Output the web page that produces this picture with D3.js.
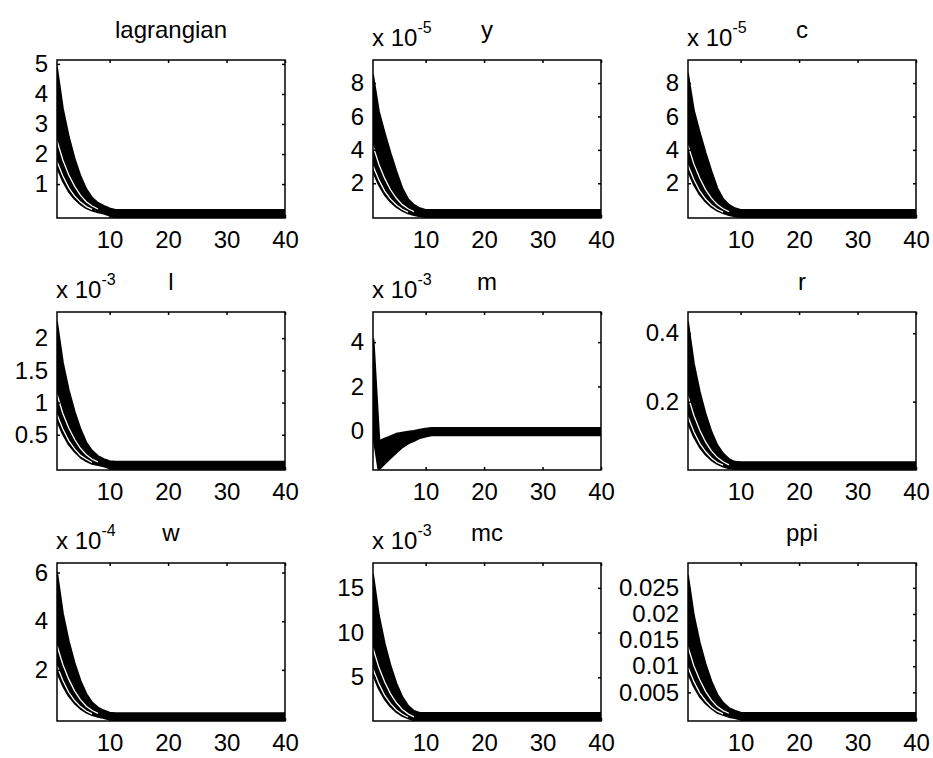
<!DOCTYPE html>
<html><head><meta charset="utf-8">
<script src="https://cdn.jsdelivr.net/npm/d3@7"></script>
<style>
html,body{margin:0;padding:0;background:#fff;}
svg{display:block;font-family:"Liberation Sans",Arial,Helvetica,sans-serif;}
</style></head><body>
<svg id="chart" width="933" height="758"></svg>
<script>
// ---------------- data ----------------
const periods = [1,2,3,4,5,6,7,8,9,10,11,12,13,14,15,16,17,18,19,20,
  21,22,23,24,25,26,27,28,29,30,31,32,33,34,35,36,37,38,39,40];
const titles = ["lagrangian","y","c","l","m","r","w","mc","ppi"];
const exponents = [null,"-5","-5","-3","-3",null,"-4","-3",null];
const xTicks = [10,20,30,40];
const yLimits = [[-0.13,5.13],[-0.08,9.38],[-0.08,9.38],[-0.047,2.406],[-1.77,5.36],
  [0,0.462],[-0.1,6.39],[0.11,17.78],[-0.00048,0.02975]];
const yTicks = [[1,2,3,4,5],[2,4,6,8],[2,4,6,8],[0.5,1,1.5,2],[0,2,4],[0.2,0.4],[2,4,6],[5,10,15],
  [0.005,0.01,0.015,0.02,0.025]];
const yTickLabels = [["1","2","3","4","5"],["2","4","6","8"],["2","4","6","8"],["0.5","1","1.5","2"],
  ["0","2","4"],["0.2","0.4"],["2","4","6"],["5","10","15"],["0.005","0.01","0.015","0.02","0.025"]];

// upper / lower edges of the bundle of response draws (in displayed units)
const lagrangianHigh = [4.87,3.51,2.58,1.85,1.27,0.83,0.54,0.37,0.27,0.19,
  0.14,0.14,0.14,0.14,0.14,0.14,0.14,0.14,0.14,0.14,
  0.14,0.14,0.14,0.14,0.14,0.14,0.14,0.14,0.14,0.14,
  0.14,0.14,0.14,0.14,0.14,0.14,0.14,0.14,0.14,0.14];
const lagrangianLow = [1.56,1.10,0.75,0.51,0.33,0.20,0.12,0.06,0.02,-0.05,
  -0.12,-0.12,-0.12,-0.12,-0.12,-0.12,-0.12,-0.12,-0.12,-0.12,
  -0.12,-0.12,-0.12,-0.12,-0.12,-0.12,-0.12,-0.12,-0.12,-0.12,
  -0.12,-0.12,-0.12,-0.12,-0.12,-0.12,-0.12,-0.12,-0.12,-0.12];
const yHigh = [8.48,6.30,5.00,3.80,2.70,1.70,1.05,0.70,0.50,0.40,
  0.40,0.40,0.40,0.40,0.40,0.40,0.40,0.40,0.40,0.40,
  0.40,0.40,0.40,0.40,0.40,0.40,0.40,0.40,0.40,0.40,
  0.40,0.40,0.40,0.40,0.40,0.40,0.40,0.40,0.40,0.40];
const yLow = [2.71,1.91,1.31,0.89,0.58,0.36,0.20,0.10,0.03,-0.03,
  -0.06,-0.06,-0.06,-0.06,-0.06,-0.06,-0.06,-0.06,-0.06,-0.06,
  -0.06,-0.06,-0.06,-0.06,-0.06,-0.06,-0.06,-0.06,-0.06,-0.06,
  -0.06,-0.06,-0.06,-0.06,-0.06,-0.06,-0.06,-0.06,-0.06,-0.06];
const cHigh = [8.55,6.35,5.04,3.83,2.72,1.71,1.06,0.70,0.50,0.40,
  0.40,0.40,0.40,0.40,0.40,0.40,0.40,0.40,0.40,0.40,
  0.40,0.40,0.40,0.40,0.40,0.40,0.40,0.40,0.40,0.40,
  0.40,0.40,0.40,0.40,0.40,0.40,0.40,0.40,0.40,0.40];
const cLow = [2.74,1.92,1.33,0.90,0.58,0.36,0.21,0.10,0.03,-0.03,
  -0.06,-0.06,-0.06,-0.06,-0.06,-0.06,-0.06,-0.06,-0.06,-0.06,
  -0.06,-0.06,-0.06,-0.06,-0.06,-0.06,-0.06,-0.06,-0.06,-0.06,
  -0.06,-0.06,-0.06,-0.06,-0.06,-0.06,-0.06,-0.06,-0.06,-0.06];
const lHigh = [2.25,1.62,1.19,0.86,0.59,0.38,0.25,0.17,0.12,0.09,
  0.08,0.08,0.08,0.08,0.08,0.08,0.08,0.08,0.08,0.08,
  0.08,0.08,0.08,0.08,0.08,0.08,0.08,0.08,0.08,0.08,
  0.08,0.08,0.08,0.08,0.08,0.08,0.08,0.08,0.08,0.08];
const lLow = [0.72,0.51,0.35,0.24,0.15,0.09,0.05,0.03,0.01,-0.02,
  -0.04,-0.04,-0.04,-0.04,-0.04,-0.04,-0.04,-0.04,-0.04,-0.04,
  -0.04,-0.04,-0.04,-0.04,-0.04,-0.04,-0.04,-0.04,-0.04,-0.04,
  -0.04,-0.04,-0.04,-0.04,-0.04,-0.04,-0.04,-0.04,-0.04,-0.04];
const mHigh = [4.10,-0.50,-0.38,-0.27,-0.16,-0.11,-0.07,-0.03,0.02,0.07,
  0.10,0.10,0.10,0.10,0.10,0.10,0.10,0.10,0.10,0.10,
  0.10,0.10,0.10,0.10,0.10,0.10,0.10,0.10,0.10,0.10,
  0.10,0.10,0.10,0.10,0.10,0.10,0.10,0.10,0.10,0.10];
const mLow = [0.00,-1.72,-1.45,-1.20,-0.95,-0.72,-0.55,-0.43,-0.30,-0.24,
  -0.18,-0.18,-0.18,-0.18,-0.18,-0.18,-0.18,-0.18,-0.18,-0.18,
  -0.18,-0.18,-0.18,-0.18,-0.18,-0.18,-0.18,-0.18,-0.18,-0.18,
  -0.18,-0.18,-0.18,-0.18,-0.18,-0.18,-0.18,-0.18,-0.18,-0.18];
const rHigh = [0.432,0.311,0.229,0.164,0.112,0.073,0.048,0.032,0.024,0.023,
  0.023,0.023,0.023,0.023,0.023,0.023,0.023,0.023,0.023,0.023,
  0.023,0.023,0.023,0.023,0.023,0.023,0.023,0.023,0.023,0.023,
  0.023,0.023,0.023,0.023,0.023,0.023,0.023,0.023,0.023,0.023];
const rLow = [0.138,0.097,0.067,0.045,0.029,0.018,0.010,0.005,0.003,0.002,
  0.002,0.002,0.002,0.002,0.002,0.002,0.002,0.002,0.002,0.002,
  0.002,0.002,0.002,0.002,0.002,0.002,0.002,0.002,0.002,0.002,
  0.002,0.002,0.002,0.002,0.002,0.002,0.002,0.002,0.002,0.002];
const wHigh = [6.00,4.32,3.18,2.28,1.56,1.02,0.66,0.45,0.33,0.24,
  0.22,0.22,0.22,0.22,0.22,0.22,0.22,0.22,0.22,0.22,
  0.22,0.22,0.22,0.22,0.22,0.22,0.22,0.22,0.22,0.22,
  0.22,0.22,0.22,0.22,0.22,0.22,0.22,0.22,0.22,0.22];
const wLow = [1.92,1.35,0.93,0.63,0.41,0.25,0.14,0.07,0.02,-0.04,
  -0.08,-0.08,-0.08,-0.08,-0.08,-0.08,-0.08,-0.08,-0.08,-0.08,
  -0.08,-0.08,-0.08,-0.08,-0.08,-0.08,-0.08,-0.08,-0.08,-0.08,
  -0.08,-0.08,-0.08,-0.08,-0.08,-0.08,-0.08,-0.08,-0.08,-0.08];
const mcHigh = [16.5,11.9,8.75,6.27,4.29,2.81,1.82,1.24,1.00,1.00,
  1.00,1.00,1.00,1.00,1.00,1.00,1.00,1.00,1.00,1.00,
  1.00,1.00,1.00,1.00,1.00,1.00,1.00,1.00,1.00,1.00,
  1.00,1.00,1.00,1.00,1.00,1.00,1.00,1.00,1.00,1.00];
const mcLow = [5.28,3.71,2.56,1.73,1.12,0.69,0.40,0.20,0.15,0.15,
  0.15,0.15,0.15,0.15,0.15,0.15,0.15,0.15,0.15,0.15,
  0.15,0.15,0.15,0.15,0.15,0.15,0.15,0.15,0.15,0.15,
  0.15,0.15,0.15,0.15,0.15,0.15,0.15,0.15,0.15,0.15];
const ppiHigh = [0.0273,0.0197,0.0145,0.0104,0.0071,0.0046,0.0030,0.0020,0.0015,0.0011,
  0.00105,0.00105,0.00105,0.00105,0.00105,0.00105,0.00105,0.00105,0.00105,0.00105,
  0.00105,0.00105,0.00105,0.00105,0.00105,0.00105,0.00105,0.00105,0.00105,0.00105,
  0.00105,0.00105,0.00105,0.00105,0.00105,0.00105,0.00105,0.00105,0.00105,0.00105];
const ppiLow = [0.0087,0.0061,0.0042,0.0029,0.0019,0.0011,0.0007,0.0003,0.0001,-0.0002,
  -0.0004,-0.0004,-0.0004,-0.0004,-0.0004,-0.0004,-0.0004,-0.0004,-0.0004,-0.0004,
  -0.0004,-0.0004,-0.0004,-0.0004,-0.0004,-0.0004,-0.0004,-0.0004,-0.0004,-0.0004,
  -0.0004,-0.0004,-0.0004,-0.0004,-0.0004,-0.0004,-0.0004,-0.0004,-0.0004,-0.0004];

// gaps between individual draws (visible as thin white paths), from period 1
const gapA = [
  [2.44,1.80,1.31,0.93,0.63,0.41,0.27,0.17],
  [4.24,3.14,2.29,1.61,1.10,0.72,0.47,0.30],
  [4.28,3.16,2.31,1.62,1.11,0.73,0.47,0.30],
  [1.13,0.83,0.61,0.43,0.29,0.19,0.12,0.08],
  [],
  [0.216,0.160,0.117,0.082,0.056,0.037,0.024,0.015],
  [3.00,2.22,1.62,1.14,0.78,0.51,0.33,0.21],
  [8.25,6.11,4.46,3.14,2.15,1.40,0.91,0.58],
  [0.0137,0.0101,0.0074,0.0052,0.0035,0.0023,0.0015,0.0010]];
const gapB = [
  [1.75,1.27,0.88,0.60,0.40,0.25,0.16],
  [3.05,2.20,1.53,1.05,0.70,0.44,0.27],
  [3.08,2.22,1.54,1.06,0.70,0.44,0.27],
  [0.81,0.59,0.41,0.28,0.18,0.12,0.07],
  [],
  [0.156,0.112,0.078,0.054,0.035,0.022,0.014],
  [2.16,1.56,1.08,0.74,0.49,0.31,0.19],
  [5.94,4.29,2.97,2.05,1.35,0.86,0.53],
  [0.0098,0.0071,0.0049,0.0034,0.0022,0.0014,0.0009]];

const highs = [lagrangianHigh,yHigh,cHigh,lHigh,mHigh,rHigh,wHigh,mcHigh,ppiHigh];
const lows = [lagrangianLow,yLow,cLow,lLow,mLow,rLow,wLow,mcLow,ppiLow];

// ---------------- layout ----------------
const colX = [57, 373, 688], rowY = [60, 312, 563];
const W = 228, H = 158, FS = 24;

const svg = d3.select("#chart");
svg.append("rect").attr("width",933).attr("height",758).attr("fill","#fff");

titles.forEach((title,i)=>{
  const col = i%3, row = Math.floor(i/3);
  const x0 = colX[col], y0 = rowY[row];
  const x = d3.scaleLinear().domain([1,40]).range([x0, x0+W]);
  const y = d3.scaleLinear().domain(yLimits[i]).range([y0+H, y0]);
  const g = svg.append("g");
  const cid = "clip"+i;
  svg.append("clipPath").attr("id",cid).append("rect")
    .attr("x",x0).attr("y",y0).attr("width",W).attr("height",H);
  const plot = g.append("g").attr("clip-path",`url(#${cid})`);
  const hi = highs[i], lo = lows[i];
  const area = d3.area()
    .x((d,j)=>x(periods[j]))
    .y0((d,j)=>y(lo[j]))
    .y1((d,j)=>y(hi[j]));
  plot.append("path").datum(hi).attr("d",area)
    .attr("fill","#000").attr("stroke","#000").attr("stroke-width",i===4?3:2)
    .attr("stroke-linejoin","round");
  const line = d3.line().x((d,j)=>x(periods[j])).y(d=>y(d));
  [gapA[i], gapB[i]].forEach(s=>{
    if (s.length) plot.append("path").datum(s).attr("d",line)
      .attr("fill","none").attr("stroke","#fff").attr("stroke-width",1.3);
  });

  const styleAxis = sel => {
    sel.select(".domain").remove();
    sel.attr("font-size",FS).attr("font-family",null);
    sel.selectAll("line").attr("stroke","#000").attr("stroke-width",1.5);
    sel.selectAll("text").attr("fill","#000");
  };
  const labs = yTickLabels[i];
  g.append("g").attr("transform",`translate(0,${y0+H})`)
    .call(d3.axisBottom(x).tickValues(xTicks).tickSizeInner(-3).tickSizeOuter(0).tickPadding(13))
    .call(styleAxis);
  g.append("g").attr("transform",`translate(0,${y0})`)
    .call(d3.axisTop(x).tickValues(xTicks).tickSizeInner(-3).tickSizeOuter(0).tickFormat(""))
    .call(styleAxis);
  g.append("g").attr("transform",`translate(${x0},0)`)
    .call(d3.axisLeft(y).tickValues(yTicks[i]).tickSizeInner(-3).tickSizeOuter(0).tickPadding(9)
      .tickFormat((d,j)=>labs[j]))
    .call(styleAxis);
  g.append("g").attr("transform",`translate(${x0+W},0)`)
    .call(d3.axisRight(y).tickValues(yTicks[i]).tickSizeInner(-3).tickSizeOuter(0).tickFormat(""))
    .call(styleAxis);

  g.append("rect").attr("x",x0).attr("y",y0).attr("width",W).attr("height",H)
    .attr("fill","none").attr("stroke","#000").attr("stroke-width",1.5);

  g.append("text").attr("x",x0+W/2).attr("y",y0-22).attr("text-anchor","middle")
    .attr("font-size",FS).attr("fill","#000").text(title);

  if (exponents[i]) {
    const t = g.append("text").attr("x",x0-1).attr("y",y0-14).attr("font-size",FS).attr("fill","#000");
    t.append("tspan").text("x 10");
    t.append("tspan").attr("dy",-13).attr("font-size",16).text(exponents[i]);
  }
});
</script>
</body></html>
